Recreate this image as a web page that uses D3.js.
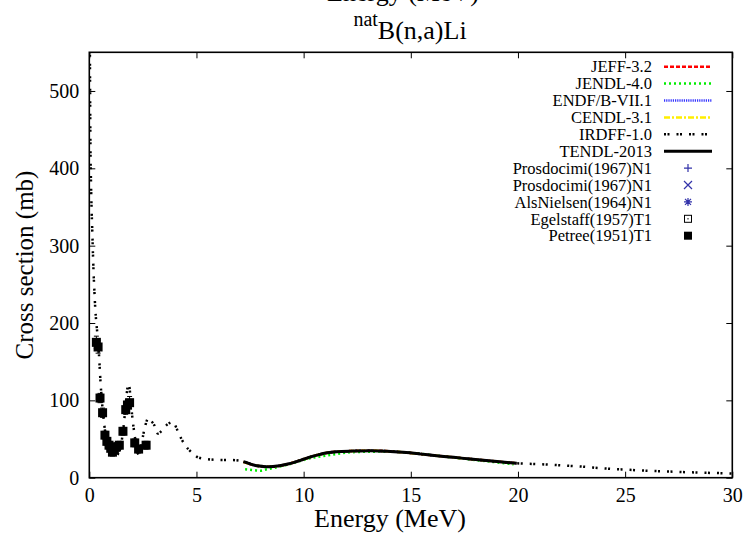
<!DOCTYPE html>
<html><head><meta charset="utf-8">
<script src="https://cdn.jsdelivr.net/npm/d3@7"></script>
<style>
html,body{margin:0;padding:0;background:#fff;}
svg{display:block;font-family:"Liberation Serif","Times New Roman",serif;}
</style></head>
<body><svg id="c" width="748" height="535"></svg>
<script>
// ---------- data ----------
const xTicks = [0, 5, 10, 15, 20, 25, 30];
const yTicks = [0, 100, 200, 300, 400, 500];

const irdffE = [0.02, 0.05, 0.08, 0.11, 0.14, 0.17, 0.2, 0.24, 0.28, 0.33, 0.38, 0.45, 0.52, 0.6, 0.7, 0.8, 0.9, 1.0, 1.1, 1.2, 1.3, 1.4, 1.5, 1.6, 1.7, 1.78, 1.84, 1.92, 2.0, 2.1, 2.2, 2.32, 2.42, 2.52, 2.62, 2.75, 2.9, 3.05, 3.2, 3.35, 3.5, 3.7, 3.9, 4.1, 4.3, 4.5, 4.8, 5.1, 5.5, 6.0, 6.5, 7.0, 7.19, 7.5, 7.81, 8.43, 9.21, 9.99, 10.77, 11.54, 13.1, 14.65, 16.2, 17.77, 19.94, 21, 22, 23, 24, 25, 26, 27, 28, 29, 30];
const irdffS = [600, 440, 380, 345, 318, 290, 265, 240, 218, 200, 185, 160, 125, 95, 68, 50, 40, 33, 28, 27, 29, 35, 46, 66, 95, 116, 121, 105, 80, 58, 40, 29, 40, 56, 68, 77, 73, 67, 57, 60, 65, 70, 72, 62, 50, 41, 32, 26, 24, 23, 23, 22, 21, 18, 15.5, 14.2, 17.3, 23.8, 30.2, 33.6, 34.9, 32.8, 28.4, 24.2, 18.6, 17.5, 16, 14.3, 12, 10.5, 9, 8, 7, 6.2, 5.5];

const tendlE = [7.19, 7.5, 7.81, 8.1, 8.43, 8.8, 9.21, 9.6, 9.99, 10.4, 10.77, 11.1, 11.54, 12.3, 13.1, 13.9, 14.65, 15.4, 16.2, 17.0, 17.77, 18.9, 19.94];
const tendlS = [20.7, 17.8, 15.5, 14.6, 14.2, 15.2, 17.3, 20.2, 23.8, 27.5, 30.2, 32.2, 33.6, 34.4, 34.9, 34.3, 32.8, 30.8, 28.4, 26.3, 24.2, 21.3, 18.6];

const jeffE = [7.19, 7.81, 8.43, 9.21, 9.99, 10.77, 11.54, 13.1, 14.65, 16.2, 17.77, 19.94];
const jeffS = [20.5, 15.5, 14.2, 17.3, 23.8, 30.2, 33.6, 34.9, 32.8, 28.4, 24.2, 18.6];
const endfE = [7.19, 7.81, 8.43, 9.21, 9.99, 10.77, 11.54, 13.1, 14.65, 16.2, 17.77, 19.94];
const endfS = [20.5, 15.5, 14.2, 17.3, 23.8, 30.2, 33.6, 34.9, 32.8, 28.4, 24.2, 18.6];
const cendlE = [7.19, 7.81, 8.43, 9.21, 9.99, 10.77, 11.54, 13.1, 14.65, 16.2, 17.77, 19.94];
const cendlS = [20.5, 15.5, 14.2, 17.3, 23.8, 30.2, 33.6, 34.9, 32.8, 28.4, 24.2, 18.6];

const jendlE = [7.27, 7.58, 7.97, 8.28, 8.59, 8.98, 9.37, 9.83, 10.3, 11.23, 12.3, 13.88, 15.4, 17.0, 18.5, 19.8];
const jendlS = [10.9, 10.0, 9.0, 10.9, 12.5, 15.1, 17.7, 21.6, 25.1, 29.3, 33.0, 33.8, 31.0, 26.0, 21.4, 17.3];

const petreeE = [0.33, 0.41, 0.50, 0.62, 0.73, 0.82, 0.92, 1.00, 1.08, 1.17, 1.27, 1.40, 1.57, 1.70, 1.78, 1.88, 2.12, 2.30, 2.65];
const petreeS = [175, 169, 103, 84, 55, 47, 42, 38, 33, 36, 40, 42, 60, 88, 94, 97, 45, 37, 42];
const petreeErr = [8, 8, 6, 6, 5, 5, 5, 5, 5, 5, 5, 5, 5, 6, 7, 8, 5, 5, 5];

const legendLabels = ["JEFF-3.2", "JENDL-4.0", "ENDF/B-VII.1", "CENDL-3.1", "IRDFF-1.0", "TENDL-2013",
  "Prosdocimi(1967)N1", "Prosdocimi(1967)N1", "AlsNielsen(1964)N1", "Egelstaff(1957)T1", "Petree(1951)T1"];

// ---------- layout ----------
const W = 748, H = 535;
const m = {l: 89.3, t: 52.3, r: 15.7, b: 57.3};
const svg = d3.select("#c");
const x = d3.scaleLinear().domain([0, 30]).range([m.l, W - m.r]);
const y = d3.scaleLinear().domain([0, 550]).range([H - m.b, m.t]);

svg.append("defs").append("clipPath").attr("id", "clip")
  .append("rect").attr("x", m.l).attr("y", m.t).attr("width", W - m.r - m.l).attr("height", H - m.b - m.t);

const blue = "#3333aa";
const lineStyles = {
  jeff: {c: "#ff0000", w: 2.5, d: "4,2"},
  jendl: {c: "#00ee00", w: 2.5, d: "2,3"},
  endf: {c: "#3333ff", w: 2.5, d: "1.2,1"},
  cendl: {c: "#ffee00", w: 2.5, d: "6,2,2,2"},
  irdff: {c: "#000000", w: 2.5, d: "2,1.5,2,7"},
  tendl: {c: "#000000", w: 3, d: null}
};

const line = d3.line().x(d => x(d[0])).y(d => y(d[1])).curve(d3.curveMonotoneX);
const zip = (a, b) => a.map((v, i) => [v, b[i]]);

const plot = svg.append("g").attr("clip-path", "url(#clip)");
function drawLine(E, S, st) {
  const p = plot.append("path").datum(zip(E, S)).attr("d", line)
    .attr("fill", "none").attr("stroke", st.c).attr("stroke-width", st.w);
  if (st.d) p.attr("stroke-dasharray", st.d);
}
drawLine(jeffE, jeffS, lineStyles.jeff);
drawLine(jendlE, jendlS, lineStyles.jendl);
drawLine(endfE, endfS, lineStyles.endf);
drawLine(cendlE, cendlS, lineStyles.cendl);
drawLine(irdffE, irdffS, lineStyles.irdff);
drawLine(tendlE, tendlS, lineStyles.tendl);

// Petree points with error bars
const pd = petreeE.map((e, i) => ({e, s: petreeS[i], err: petreeErr[i]}));
const eb = plot.append("g").attr("stroke", "#000").attr("stroke-width", 1);
pd.forEach(d => {
  eb.append("line").attr("x1", x(d.e)).attr("x2", x(d.e)).attr("y1", y(d.s - d.err)).attr("y2", y(d.s + d.err));
  eb.append("line").attr("x1", x(d.e) - 2.5).attr("x2", x(d.e) + 2.5).attr("y1", y(d.s - d.err)).attr("y2", y(d.s - d.err));
  eb.append("line").attr("x1", x(d.e) - 2.5).attr("x2", x(d.e) + 2.5).attr("y1", y(d.s + d.err)).attr("y2", y(d.s + d.err));
});
plot.append("g").selectAll("rect").data(pd).join("rect")
  .attr("x", d => x(d.e) - 4.5).attr("y", d => y(d.s) - 4.5).attr("width", 9).attr("height", 9).attr("fill", "#000");

// ---------- axes ----------
const fr = svg.append("g");
fr.append("rect").attr("x", m.l).attr("y", m.t).attr("width", W - m.r - m.l).attr("height", H - m.b - m.t)
  .attr("fill", "none").attr("stroke", "#000").attr("stroke-width", 1.6);

const tl = 6;
const xb = d3.axisBottom(x).tickValues(xTicks).tickSizeInner(-tl).tickSizeOuter(0).tickPadding(10);
const gx = svg.append("g").attr("transform", `translate(0,${H - m.b})`).call(xb);
const gxt = svg.append("g").attr("transform", `translate(0,${m.t})`).call(d3.axisTop(x).tickValues(xTicks).tickSizeInner(-tl).tickSizeOuter(0).tickFormat(""));
const yl = d3.axisLeft(y).tickValues(yTicks).tickSizeInner(-tl).tickSizeOuter(0).tickPadding(10);
const gy = svg.append("g").attr("transform", `translate(${m.l},0)`).call(yl);
const gyr = svg.append("g").attr("transform", `translate(${W - m.r},0)`).call(d3.axisRight(y).tickValues(yTicks).tickSizeInner(-tl).tickSizeOuter(0).tickFormat(""));
[gx, gxt, gy, gyr].forEach(g => {
  g.select(".domain").remove();
  g.selectAll("line").attr("stroke", "#000").attr("stroke-width", 1);
  g.selectAll("text").attr("font-family", "Liberation Serif").attr("font-size", 20).attr("fill", "#000");
});
gx.selectAll("text").attr("dy", "0.71em");

// labels
svg.append("text").attr("x", 390).attr("y", 527).attr("text-anchor", "middle")
  .attr("font-size", 26).text("Energy (MeV)");
svg.append("text").attr("x", 403).attr("y", 1).attr("text-anchor", "middle")
  .attr("font-size", 26).text("Energy (MeV)");
svg.append("text").attr("transform", `translate(33,${(m.t + H - m.b) / 2}) rotate(-90)`).attr("text-anchor", "middle")
  .attr("font-size", 25).text("Cross section (mb)");
const tt = svg.append("text").attr("x", 410).attr("y", 39).attr("text-anchor", "middle");
tt.append("tspan").attr("font-size", 20).attr("dy", -13).text("nat");
tt.append("tspan").attr("font-size", 26).attr("dy", 13).text("B(n,a)Li");

// ---------- legend ----------
const lg = svg.append("g");
const ly0 = 66.7, ldy = 16.9, ltx = 652, lx1 = 664, lx2 = 712, lmx = 688;
const lineKeys = ["jeff", "jendl", "endf", "cendl", "irdff", "tendl"];
legendLabels.forEach((lab, i) => {
  const yy = ly0 + i * ldy;
  lg.append("text").attr("x", ltx).attr("y", yy).attr("dy", "0.35em").attr("text-anchor", "end")
    .attr("font-size", 16.5).text(lab);
  if (i < 6) {
    const st = lineStyles[lineKeys[i]];
    const l = lg.append("line").attr("x1", lx1).attr("x2", lx2).attr("y1", yy).attr("y2", yy)
      .attr("stroke", st.c).attr("stroke-width", st.w);
    if (st.d) l.attr("stroke-dasharray", st.d);
  } else if (i === 6) {
    lg.append("path").attr("d", `M${lmx - 4},${yy}H${lmx + 4}M${lmx},${yy - 4}V${yy + 4}`).attr("stroke", blue).attr("stroke-width", 1.2);
  } else if (i === 7) {
    lg.append("path").attr("d", `M${lmx - 4},${yy - 4}L${lmx + 4},${yy + 4}M${lmx - 4},${yy + 4}L${lmx + 4},${yy - 4}`).attr("stroke", blue).attr("stroke-width", 1.2);
  } else if (i === 8) {
    lg.append("path").attr("d", `M${lmx - 4},${yy}H${lmx + 4}M${lmx},${yy - 4}V${yy + 4}M${lmx - 3},${yy - 3}L${lmx + 3},${yy + 3}M${lmx - 3},${yy + 3}L${lmx + 3},${yy - 3}`).attr("stroke", blue).attr("stroke-width", 1.2);
  } else if (i === 9) {
    lg.append("rect").attr("x", lmx - 3.5).attr("y", yy - 3.5).attr("width", 7).attr("height", 7).attr("fill", "none").attr("stroke", "#000").attr("stroke-width", 1);
    lg.append("rect").attr("x", lmx - 0.6).attr("y", yy - 0.6).attr("width", 1.2).attr("height", 1.2).attr("fill", "#000");
  } else {
    lg.append("rect").attr("x", lmx - 4).attr("y", yy - 4).attr("width", 8).attr("height", 8).attr("fill", "#000");
  }
});
</script></body></html>
